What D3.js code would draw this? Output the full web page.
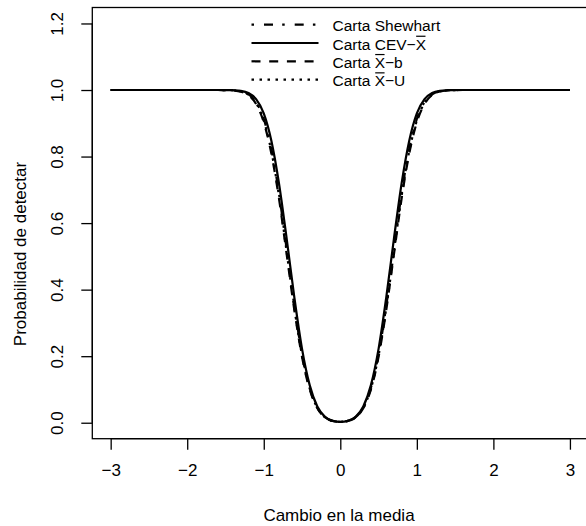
<!DOCTYPE html>
<html><head><meta charset="utf-8">
<script src="https://cdn.jsdelivr.net/npm/d3@7"></script>
<style>body{margin:0;background:#fff}text{font-family:"Liberation Sans",Arial,sans-serif;fill:#000}</style>
</head><body><svg id="c" width="586" height="526"></svg>
<script>
const shifts = [-3.0,-2.9,-2.8,-2.7,-2.6,-2.5,-2.4,-2.3,-2.2,-2.1,-2.0,-1.9,-1.8,-1.7,-1.6,-1.5,-1.4,-1.3,-1.2,-1.1,-1.0,-0.9,-0.8,-0.7,-0.6,-0.5,-0.4,-0.3,-0.2,-0.1,0.0,0.1,0.2,0.3,0.4,0.5,0.6,0.7,0.8,0.9,1.0,1.1,1.2,1.3,1.4,1.5,1.6,1.7,1.8,1.9,2.0,2.1,2.2,2.3,2.4,2.5,2.6,2.7,2.8,2.9,3.0];
const shewhart = [1,1,1,1,1,1,1,1,1,1,1,1,1,1,1,0.9998,0.999,0.9962,0.9872,0.9637,0.913,0.822,0.687,0.52,0.35,0.206,0.105,0.0453,0.0167,0.0055,0.0027,0.0055,0.0167,0.0453,0.105,0.206,0.35,0.52,0.687,0.822,0.913,0.9637,0.9872,0.9962,0.999,0.9998,1,1,1,1,1,1,1,1,1,1,1,1,1,1,1];
const cev = [1,1,1,1,1,1,1,1,1,1,1,1,1,1,1,0.9999,0.9994,0.9976,0.991,0.9725,0.93,0.847,0.718,0.552,0.376,0.222,0.113,0.0487,0.0176,0.0056,0.0027,0.0056,0.0176,0.0487,0.113,0.222,0.376,0.552,0.718,0.847,0.93,0.9725,0.991,0.9976,0.9994,0.9999,1,1,1,1,1,1,1,1,1,1,1,1,1,1,1];
const xb = [1,1,1,1,1,1,1,1,1,1,1,1,1,1,1,0.9997,0.9987,0.9952,0.985,0.958,0.903,0.808,0.672,0.505,0.338,0.198,0.100,0.0435,0.0162,0.0054,0.0027,0.0054,0.0162,0.0435,0.100,0.198,0.338,0.505,0.672,0.808,0.903,0.958,0.985,0.9952,0.9987,0.9997,1,1,1,1,1,1,1,1,1,1,1,1,1,1,1];
const xu = [1,1,1,1,1,1,1,1,1,1,1,1,1,1,1,0.9998,0.9989,0.9958,0.9862,0.961,0.908,0.815,0.680,0.512,0.344,0.202,0.103,0.0445,0.0165,0.0055,0.0027,0.0055,0.0165,0.0445,0.103,0.202,0.344,0.512,0.680,0.815,0.908,0.961,0.9862,0.9958,0.9989,0.9998,1,1,1,1,1,1,1,1,1,1,1,1,1,1,1];
const xTicks = [-3,-2,-1,0,1,2,3];
const yTicks = [0,0.2,0.4,0.6,0.8,1.0,1.2];
const seriesNames = ["Shewhart","CEV","Xb","XU"];
const legendLabels = [["Carta Shewhart"],["Carta CEV\u2212","X",""],["Carta ","X","\u2212b"],["Carta ","X","\u2212U"]];

const svg = d3.select("#c");
const x = d3.scaleLinear().domain([-3.24,3.24]).range([92.3,588.3]);
const y = d3.scaleLinear().domain([-0.048,1.248]).range([438.7,7.5]);
const FS = 17;

svg.append("rect").attr("x",x.range()[0]).attr("y",y.range()[1])
  .attr("width",x.range()[1]-x.range()[0]).attr("height",y.range()[0]-y.range()[1])
  .attr("fill","none").attr("stroke","#000").attr("stroke-width",1.3);

const gx = svg.append("g").attr("transform",`translate(0,${y.range()[0]})`)
  .call(d3.axisBottom(x).tickValues(xTicks).tickSize(11).tickPadding(14).tickFormat(d=>d<0?"\u2212"+Math.abs(d):String(d)));
gx.select(".domain").attr("d",`M${x(-3)},0H${x(3)}`).attr("stroke-width",1.3);
gx.selectAll(".tick line").attr("stroke-width",1.3);
gx.selectAll("text").attr("font-size",FS).attr("font-family","Liberation Sans, Arial, sans-serif");

const gy = svg.append("g").attr("transform",`translate(${x.range()[0]},0)`)
  .call(d3.axisLeft(y).tickValues(yTicks).tickSize(11).tickPadding(0).tickFormat(d3.format(".1f")));
gy.select(".domain").attr("d",`M0,${y(0)}V${y(1.2)}`).attr("stroke-width",1.3);
gy.selectAll(".tick line").attr("stroke-width",1.3);
gy.selectAll(".tick text").attr("font-size",FS).attr("font-family","Liberation Sans, Arial, sans-serif")
  .attr("x",null).attr("dy",null).attr("text-anchor","middle").attr("dominant-baseline","central")
  .attr("transform","translate(-35,0) rotate(-90)");

svg.append("text").attr("x",339).attr("y",521).attr("text-anchor","middle").attr("font-size",FS).text("Cambio en la media");
svg.append("text").attr("transform","translate(20,254) rotate(-90)").attr("text-anchor","middle")
  .attr("dominant-baseline","central").attr("font-size",FS).text("Probabilidad de detectar");

const styles = {
  Shewhart:{data:shewhart,dash:"2.5,10,9,9.2"},
  CEV:{data:cev,dash:null},
  Xb:{data:xb,dash:"9,8.7"},
  XU:{data:xu,dash:"2.5,5.5"}
};
const line = d3.line().x((d,i)=>x(shifts[i])).y(d=>y(d)).curve(d3.curveMonotoneX);
seriesNames.forEach(n=>{
  svg.append("path").datum(styles[n].data).attr("d",line).attr("fill","none")
    .attr("stroke","#000").attr("stroke-width",2.2).attr("stroke-dasharray",styles[n].dash);
});

const ly = [24.7,43,61.3,79.6];
const LFS = 15.5;
seriesNames.forEach((n,i)=>{
  svg.append("line").attr("x1",251.5).attr("x2",318.5).attr("y1",ly[i]).attr("y2",ly[i])
    .attr("stroke","#000").attr("stroke-width",2.2).attr("stroke-dasharray",styles[n].dash);
  const base = ly[i]+1+0.716*LFS/2;
  const t = svg.append("text").attr("x",332.5).attr("y",base).attr("font-size",LFS);
  legendLabels[i].forEach(s=>t.append("tspan").text(s));
  if(legendLabels[i].length>1){
    const idx = legendLabels[i][0].length;
    const ext = t.node().getExtentOfChar(idx);
    const oy = base-0.716*LFS-2.2;
    svg.append("line").attr("x1",ext.x+0.5).attr("x2",ext.x+ext.width-0.5)
      .attr("y1",oy).attr("y2",oy).attr("stroke","#000").attr("stroke-width",1.2);
  }
});
</script></body></html>
